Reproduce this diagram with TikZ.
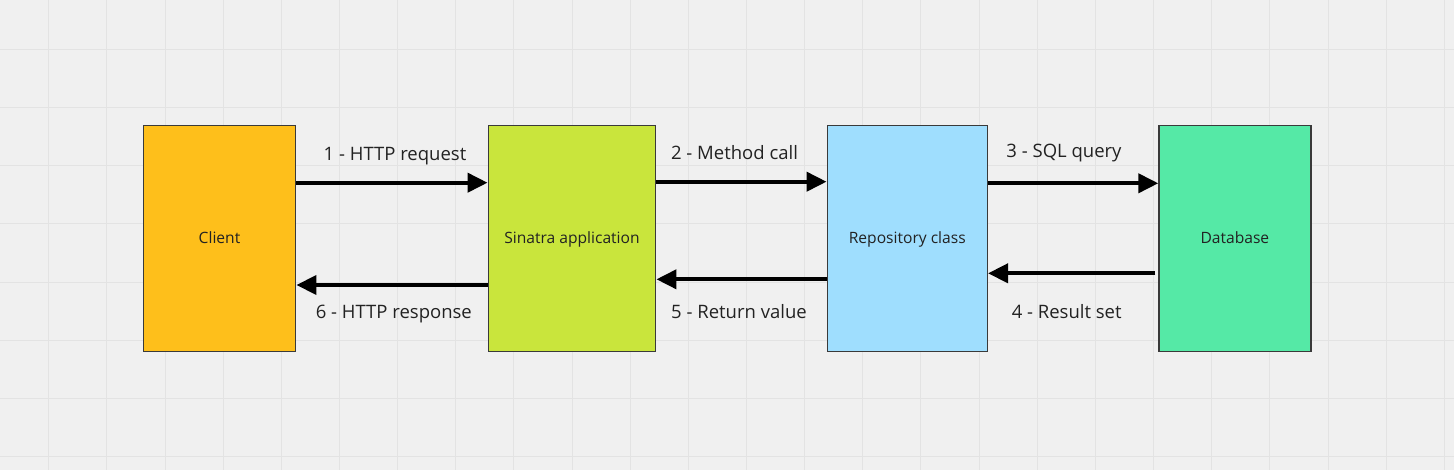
\documentclass[tikz,border=0pt]{standalone}
\usepackage{fontspec}
\setmainfont{Open Sans}
\usetikzlibrary{arrows.meta}
\definecolor{bgc}{HTML}{F0F0F0}
\definecolor{gridc}{HTML}{E3E3E3}
\definecolor{clientc}{HTML}{FEBF1B}
\definecolor{sinatrac}{HTML}{C9E53C}
\definecolor{repoc}{HTML}{9FDEFE}
\definecolor{dbc}{HTML}{55E9A6}
\definecolor{borderc}{HTML}{3A3A3A}
\definecolor{txtc}{HTML}{222222}
\tikzset{
  box/.style={draw=borderc, line width=1.5pt, minimum height=226pt, inner sep=0pt, text=txtc},
  arr/.style={line width=4pt, -{Triangle[length=20pt,width=19pt]}, black},
  lbl/.style={anchor=base, inner sep=0pt, text=txtc, font=\fontsize{18.5pt}{22pt}\selectfont},
  boxtxt/.style={anchor=base, inner sep=0pt, text=txtc, font=\fontsize{15.6pt}{18pt}\selectfont},
}
\begin{document}
\begin{tikzpicture}[x=1pt,y=-1pt]
\useasboundingbox (0,0) rectangle (1454,470);
\fill[bgc] (0,0) rectangle (1454,470);
\foreach \i in {0,...,24} {
  \draw[gridc, line width=1pt] ({48.7+58.15*\i},0) -- ({48.7+58.15*\i},470);
}
\foreach \j in {0,...,7} {
  \draw[gridc, line width=1pt] (0,{49.3+58.2*\j}) -- (1454,{49.3+58.2*\j});
}
\node[box, fill=clientc, minimum width=152.4pt] (client) at (219.5,238.7) {};
\node[box, fill=sinatrac, minimum width=167.4pt] (sinatra) at (572,238.7) {};
\node[box, fill=repoc, minimum width=160pt] (repo) at (907.3,238.7) {};
\node[box, fill=dbc, minimum width=151.7pt] (db) at (1234.9,238.7) {};
\node[boxtxt] (clientl) at (219.5,243.3) {Client};
\node[boxtxt] (sinatral) at (572,243.3) {Sinatra application};
\node[boxtxt] (repol) at (907.3,243.3) {Repository class};
\node[boxtxt] (dbl) at (1234.9,243.3) {Database};
\draw[arr] (client.east |- 0,182.7) -- (sinatra.west |- 0,182.7);
\draw[arr] (sinatra.west |- 0,285) -- (client.east |- 0,285);
\draw[arr] (sinatra.east |- 0,181.7) -- (repo.west |- 0,181.7);
\draw[arr] (repo.west |- 0,279.3) -- (sinatra.east |- 0,279.3);
\draw[arr] (repo.east |- 0,183.3) -- (db.west |- 0,183.3);
\draw[arr] ([xshift=-3pt]db.west |- 0,273.3) -- (repo.east |- 0,273.3);
\node[lbl] (l1) at (395,160.5) {1 - HTTP request};
\node[lbl] (l2) at (734.5,160) {2 - Method call};
\node[lbl] (l3) at (1064,157.3) {3 - SQL query};
\node[lbl] (l4) at (1066.7,318.3) {4 - Result set};
\node[lbl] (l5) at (739,318.3) {5 - Return value};
\node[lbl] (l6) at (393.8,318.3) {6 - HTTP response};
\end{tikzpicture}
\end{document}
